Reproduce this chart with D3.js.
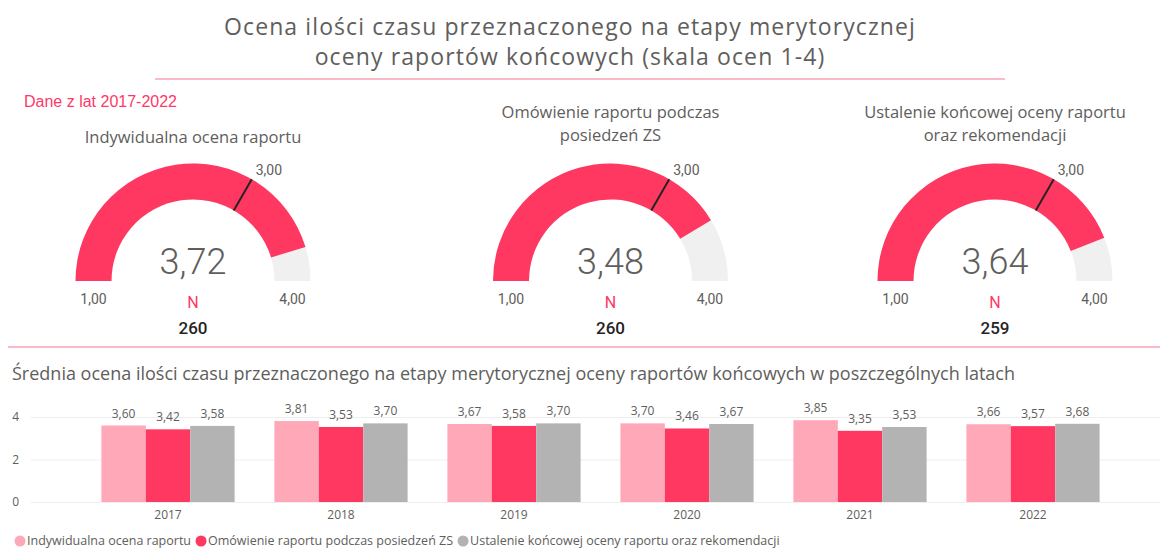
<!DOCTYPE html>
<html>
<head>
<meta charset="utf-8">
<script src="https://cdn.jsdelivr.net/npm/d3@7"></script>
<style>
  body { margin: 0; background: #fff; }
  svg { display: block; }
  text { font-family: "Segoe UI", "Open Sans", "Noto Sans", sans-serif; fill: #605E5C; }
</style>
</head>
<body>
<div id="chart"></div>
<script>
// gauges
const gaugeTitles = [
  ["Indywidualna ocena raportu"],
  ["Omówienie raportu podczas", "posiedzeń ZS"],
  ["Ustalenie końcowej oceny raportu", "oraz rekomendacji"]
]
const gaugeValues = [3.72, 3.48, 3.64]
const gaugeN = [260, 260, 259]
const gaugeTarget = 3
const gaugeMin = 1
const gaugeMax = 4

// bars per year
const years = ["2017", "2018", "2019", "2020", "2021", "2022"]
const seriesNames = [
  "Indywidualna ocena raportu",
  "Omówienie raportu podczas posiedzeń ZS",
  "Ustalenie końcowej oceny raportu oraz rekomendacji"
]
const indywidualna = [3.60, 3.81, 3.67, 3.70, 3.85, 3.66]
const omowienie = [3.42, 3.53, 3.58, 3.46, 3.35, 3.57]
const ustalenie = [3.58, 3.70, 3.70, 3.67, 3.53, 3.68]
const yTicks = [0, 2, 4]

const colors = ["#FFA8B7", "#FF3862", "#B3B3B3"]
const width = 1160, height = 552

const pl = d3.formatLocale({decimal: ",", thousands: " ", grouping: [3], currency: ["", ""]})
const fmt = pl.format(".2f")

const svg = d3.select("#chart").append("svg")
    .attr("width", width).attr("height", height)
    .attr("viewBox", [0, 0, width, height])

//title
const titleLines = ["Ocena ilości czasu przeznaczonego na etapy merytorycznej",
                    "oceny raportów końcowych (skala ocen 1-4)"]
svg.selectAll(".title").data(titleLines).join("text")
    .attr("x", 570).attr("y", (d, i) => 35 + i * 30)
    .attr("text-anchor", "middle")
    .style("font-size", "23px").style("letter-spacing", "1.1px")
    .text(d => d)

svg.append("line").attr("x1", 155).attr("x2", 1005).attr("y1", 79).attr("y2", 79)
    .attr("stroke", "#F9A3B4").attr("stroke-width", 1.5)

svg.append("text").attr("x", 24).attr("y", 107)
    .style("font-family", "'Liberation Sans', Arial, sans-serif")
    .style("font-size", "16px").style("fill", "#FF3867")
    .text("Dane z lat 2017-2022")

//1. gauges
const gaugeCenters = [193, 610.5, 995]
const cy = 281, rOut = 117.5, rIn = 81.5
const angle = d3.scaleLinear().domain([gaugeMin, gaugeMax]).range([-Math.PI / 2, Math.PI / 2])
const arc = d3.arc().innerRadius(rIn).outerRadius(rOut)

gaugeValues.forEach((v, i) => {
  const g = svg.append("g").attr("transform", `translate(${gaugeCenters[i]},${cy})`)

  const lines = gaugeTitles[i]
  const top = lines.length == 1 ? 143 : 118
  lines.forEach((t, j) => {
    g.append("text").attr("x", 0).attr("y", top - cy + j * 23)
      .attr("text-anchor", "middle").style("font-size", "16.5px").text(t)
  })

  g.append("path").attr("d", arc({startAngle: angle(gaugeMin), endAngle: angle(gaugeMax)}))
    .attr("fill", "#F0F0F0")
  g.append("path").attr("d", arc({startAngle: angle(gaugeMin), endAngle: angle(v)}))
    .attr("fill", colors[1])

  // target marker
  const a = angle(gaugeTarget)
  const sx = Math.sin(a), sy = -Math.cos(a)
  g.append("line")
    .attr("x1", sx * rIn).attr("y1", sy * rIn)
    .attr("x2", sx * rOut).attr("y2", sy * rOut)
    .attr("stroke", "#252423").attr("stroke-width", 2)
  g.append("text").attr("x", sx * rOut + 4).attr("y", sy * rOut - 4)
    .style("font-family", "Roboto, sans-serif").style("font-size", "14px")
    .text(fmt(gaugeTarget))

  g.append("text").attr("x", 0).attr("y", -7)
    .attr("text-anchor", "middle")
    .style("font-family", "Roboto, sans-serif").style("font-weight", 300)
    .style("font-size", "36px")
    .text(fmt(v))

  const rMid = (rIn + rOut) / 2
  g.append("text").attr("x", -rMid).attr("y", 23).attr("text-anchor", "middle")
    .style("font-family", "Roboto, sans-serif").style("font-size", "14px").text(fmt(gaugeMin))
  g.append("text").attr("x", rMid).attr("y", 23).attr("text-anchor", "middle")
    .style("font-family", "Roboto, sans-serif").style("font-size", "14px").text(fmt(gaugeMax))

  g.append("text").attr("x", 0).attr("y", 27).attr("text-anchor", "middle")
    .style("font-family", "Roboto, sans-serif").style("font-size", "16px")
    .style("fill", "#FF3867").text("N")
  g.append("text").attr("x", 0).attr("y", 53).attr("text-anchor", "middle")
    .style("font-family", "Roboto, sans-serif").style("font-size", "17px")
    .style("font-weight", 500).style("fill", "#252423").text(gaugeN[i])
})

svg.append("line").attr("x1", 8).attr("x2", width).attr("y1", 347).attr("y2", 347)
    .attr("stroke", "#F9A3B4").attr("stroke-width", 1.5)

//2. bar chart
svg.append("text").attr("x", 12).attr("y", 380)
    .style("font-size", "18px")
    .text("Średnia ocena ilości czasu przeznaczonego na etapy merytorycznej oceny raportów końcowych w poszczególnych latach")

const series = [indywidualna, omowienie, ustalenie]
const xScale = d3.scaleBand().domain(years).range([81.5, 1119.5]).paddingInner(0.23).paddingOuter(0.115)
const xInner = d3.scaleBand().domain(d3.range(series.length)).range([0, xScale.bandwidth()])
const yScale = d3.scaleLinear().domain([0, 4]).range([502, 417])

const yAxis = svg.append("g").attr("transform", "translate(31,0)")
    .call(d3.axisLeft(yScale).tickValues(yTicks).tickSize(-(width - 31)).tickFormat(d3.format("d")))
yAxis.select(".domain").remove()
yAxis.selectAll(".tick line").attr("stroke", "#EEEEEE")
yAxis.selectAll(".tick text").attr("x", -12).style("font-size", "12px").style("fill", "#605E5C")

const xAxis = svg.append("g").attr("transform", "translate(0,502)")
    .call(d3.axisBottom(xScale).tickSize(0))
xAxis.select(".domain").remove()
xAxis.selectAll(".tick text").attr("dy", "1.2em").style("font-size", "12px").style("fill", "#605E5C")

series.forEach((vals, s) => {
  const gs = svg.append("g")
  gs.selectAll("rect").data(vals).join("rect")
    .attr("x", (d, i) => xScale(years[i]) + xInner(s))
    .attr("y", d => yScale(d))
    .attr("width", xInner.bandwidth())
    .attr("height", d => yScale(0) - yScale(d))
    .attr("fill", colors[s])
  gs.selectAll("text").data(vals).join("text")
    .attr("x", (d, i) => xScale(years[i]) + xInner(s) + xInner.bandwidth() / 2)
    .attr("y", d => yScale(d) - 8)
    .attr("text-anchor", "middle")
    .style("font-size", "12px")
    .text(d => fmt(d))
})

//3. legend
const legend = svg.append("g").attr("transform", "translate(0,545)")
let lx = 15
seriesNames.forEach((n, i) => {
  legend.append("circle").attr("cx", lx + 5).attr("cy", -4).attr("r", 5.5).attr("fill", colors[i])
  const t = legend.append("text").attr("x", lx + 12).attr("y", 0)
    .style("font-size", "12.5px").text(n)
  lx += 12 + t.node().getComputedTextLength() + 5
})
</script>
</body>
</html>
